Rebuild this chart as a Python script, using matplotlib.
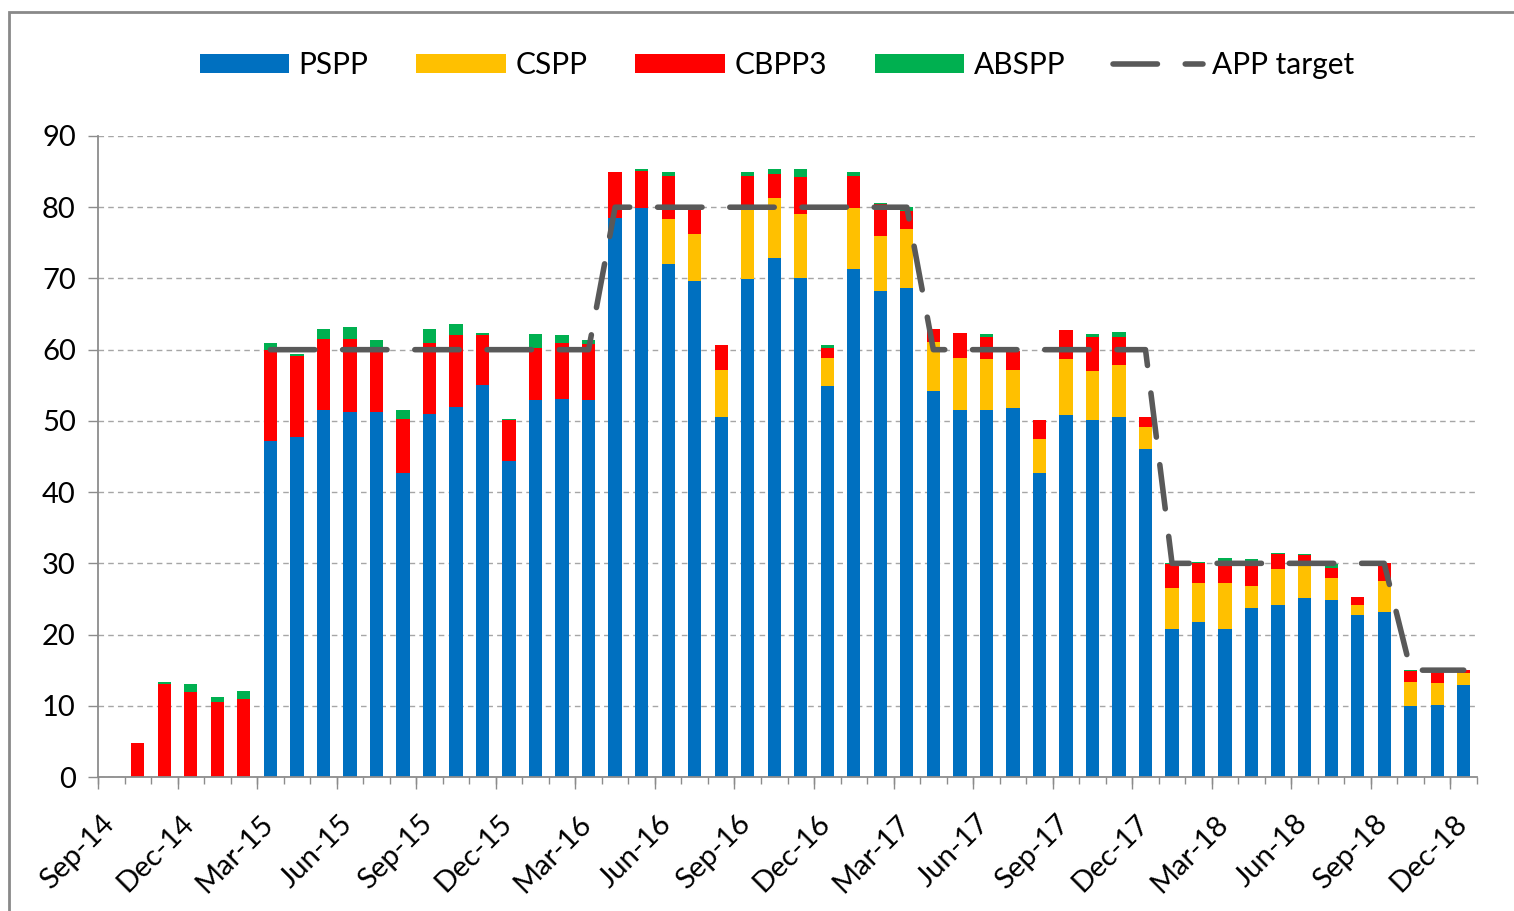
import numpy as np
import matplotlib
matplotlib.use("Agg")
import matplotlib.pyplot as plt
from matplotlib.patches import Rectangle
from matplotlib.transforms import ScaledTranslation

plt.rcParams['font.family'] = ['Lato', 'DejaVu Sans']

# monthly categories Sep-14 .. Dec-18 (52 months)
n_months = 52
tick_labels = ['Sep-14', 'Dec-14', 'Mar-15', 'Jun-15', 'Sep-15', 'Dec-15',
               'Mar-16', 'Jun-16', 'Sep-16', 'Dec-16', 'Mar-17', 'Jun-17',
               'Sep-17', 'Dec-17', 'Mar-18', 'Jun-18', 'Sep-18', 'Dec-18']

pspp = [0, 0, 0, 0, 0, 0,
        47.2, 47.7, 51.5, 51.2, 51.2, 42.7, 50.9, 52.0, 55.0, 44.3, 52.9, 53.1, 52.9,
        78.5, 79.9, 72.0, 69.6, 50.6, 69.9, 72.9, 70.1, 54.9, 71.3, 68.2, 68.7,
        54.2, 51.5, 51.5, 51.8, 42.7, 50.8, 50.1, 50.6, 46.0,
        20.8, 21.8, 20.8, 23.7, 24.2, 25.1, 24.9, 22.7, 23.2,
        9.9, 10.1, 12.9]
cspp = [0] * 21 + [
        6.4, 6.7, 6.6, 9.8, 8.4, 9.0, 4.0, 8.6, 7.8, 8.3,
        6.9, 7.4, 7.2, 5.4, 4.8, 7.9, 6.9, 7.3, 3.1,
        5.7, 5.4, 6.4, 3.1, 5.0, 4.9, 3.0, 1.4, 4.3,
        3.5, 3.1, 1.7]
cbpp3 = [0, 4.8, 13.1, 11.9,
         10.5, 11.0, 12.7, 11.4, 10.0, 10.3, 9.0, 7.6, 10.1, 10.0, 7.0, 5.8,
         7.3, 7.9, 7.9, 6.4, 5.2, 6.0, 3.6, 3.4, 4.7, 3.4, 5.1, 1.4,
         4.5, 4.4, 2.4, 1.8, 3.5, 3.1, 2.6, 2.6, 4.0, 4.8, 3.9, 1.5,
         3.4, 2.8, 2.9, 2.8, 2.1, 1.1, 1.5, 1.2, 2.6, 1.5, 1.5, 0.4]
abspp = [0, 0, 0.3, 1.2,
         0.7, 1.1, 1.1, 0.3, 1.4, 1.7, 1.1, 1.2, 1.9, 1.6, 0.4, 0.2,
         2.0, 1.0, 0.5, 0, 0.3, 0.5, 0, 0, 0.5, 0.7, 1.2, 0.3,
         0.5, 0.2, 0.7, 0, 0, 0.4, 0, 0, 0, 0.4, 0.7, 0,
         0.2, 0.2, 0.7, 1.0, 0.2, 0.2, 0.5, 0, 0, 0.1, 0, 0]
app_target = [np.nan] * 6 + [60] * 13 + [80] * 12 + [60] * 9 + [30] * 9 + [15] * 3

x = np.arange(n_months)
pspp = np.array(pspp)
cspp = np.array(cspp)
cbpp3 = np.array(cbpp3)
abspp = np.array(abspp)

fig = plt.figure(figsize=(15.14, 9.11), dpi=100)
ax = fig.add_axes([98 / 1514, 1 - 777 / 911, (1477 - 98) / 1514, (777 - 136) / 911])

w = 0.5
b1 = ax.bar(x, pspp, w, color='#0070C0', label='PSPP', zorder=2)
b2 = ax.bar(x, cspp, w, bottom=pspp, color='#FFC000', label='CSPP', zorder=2)
b3 = ax.bar(x, cbpp3, w, bottom=pspp + cspp, color='#FF0000', label='CBPP3', zorder=2)
b4 = ax.bar(x, abspp, w, bottom=pspp + cspp + cbpp3, color='#00B050', label='ABSPP', zorder=2)
ln, = ax.plot(x, app_target, color='#595959', lw=4, linestyle=(0, (8, 5)),
              dash_capstyle='round', solid_capstyle='round', label='APP target', zorder=3)

ax.set_xlim(-0.5, n_months - 0.5)
ax.set_ylim(0, 90)
ax.set_yticks(range(0, 91, 10))
ax.yaxis.grid(True, color='#A6A6A6', linestyle=(0, (4, 3)), lw=1)
ax.set_axisbelow(True)

for s in ['top', 'right']:
    ax.spines[s].set_visible(False)
for s in ['left', 'bottom']:
    ax.spines[s].set_color('#8C8C8C')
    ax.spines[s].set_linewidth(1.3)

ax.tick_params(axis='y', direction='out', length=7, width=1, color='#8C8C8C',
               labelsize=21, pad=9, labelcolor='#000000')

# labels at every third month, short ticks at each month boundary
ax.set_xticks(x[::3])
ax.set_xticklabels(tick_labels, rotation=45, ha='right')
ax.set_xticks(np.arange(n_months + 1) - 0.5, minor=True)
ax.tick_params(axis='x', which='major', length=0, pad=24, labelsize=21)
ax.tick_params(axis='x', which='minor', direction='out', length=5, width=1, color='#8C8C8C')
shift = ScaledTranslation(8 / 100, 0, fig.dpi_scale_trans)
for lab in ax.get_xticklabels():
    lab.set_transform(lab.get_transform() + shift)

sec = ax.secondary_xaxis('bottom')
sec.set_xticks(x[::3] - 0.5)
sec.set_xticklabels([])
sec.tick_params(length=8.3, width=1, color='#8C8C8C')
sec.spines['bottom'].set_visible(False)

fig.legend([b1, b2, b3, b4, ln], ['PSPP', 'CSPP', 'CBPP3', 'ABSPP', 'APP target'],
           loc='center', bbox_to_anchor=(777 / 1514, 1 - 65 / 911), ncol=5,
           frameon=False, fontsize=21.5, handlelength=3.0, handleheight=0.6,
           handletextpad=0.32, columnspacing=1.6)

fig.add_artist(Rectangle((9 / 1514, -0.05), 1.2, 1 - 12 / 911 + 0.05,
                         transform=fig.transFigure, fill=False,
                         edgecolor='#898989', lw=2))

fig.savefig('out.png', dpi=100)
